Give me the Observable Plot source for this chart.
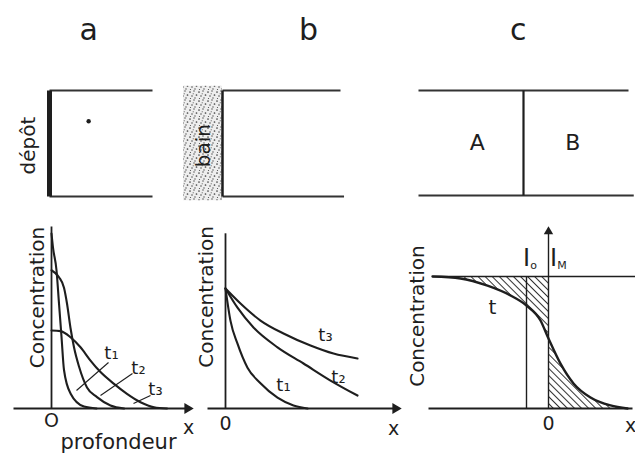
<!DOCTYPE html>
<html><head><meta charset="utf-8">
<script src="https://cdn.jsdelivr.net/npm/d3@7"></script>
<script src="https://cdn.jsdelivr.net/npm/@observablehq/plot@0.6"></script>
<style>
body{margin:0;background:#fff}
#fig{position:relative;width:635px;height:461px;overflow:hidden;background:#fff}
#fig svg{position:absolute;left:0;top:0}
</style></head><body><div id="fig"></div>
<script>
// ---------- DATA ----------
const panelTitles = ["a", "b", "c"];
// top row: sample geometry (sample length = 1, sample thickness = 1)
const sampleSpan = [0, 1];
const depositDot = [0.38, 0.71];
const bathSpan = [-0.33, 0];
const coupleSpan = [-1, 0, 1];
const coupleNames = ["A", "B"];

// panel a: thin deposit, gaussian profiles (depth, concentration)
const aX_t1 = [0, 0.03, 0.1, 0.15, 0.2, 0.25, 0.38, 0.65, 0.9];
const aC_t1 = [1.0, 0.92, 0.79, 0.6, 0.41, 0.22, 0.086, 0.011, 0];
const aX_t2 = [0, 0.15, 0.25, 0.31, 0.38, 0.45, 0.55, 0.71, 0.91, 1.18, 1.45];
const aC_t2 = [0.79, 0.75, 0.69, 0.60, 0.46, 0.35, 0.24, 0.12, 0.065, 0.017, 0];
const aX_t3 = [0, 0.18, 0.38, 0.58, 0.78, 0.98, 1.25, 1.51, 1.78, 2.05, 2.31];
const aC_t3 = [0.446, 0.442, 0.407, 0.35, 0.274, 0.208, 0.141, 0.084, 0.036, 0.007, 0];
const aLabels = ["t\u2081", "t\u2082", "t\u2083"];
const aLabelX = [1.2, 1.74, 2.08];
const aLabelC = [0.314, 0.229, 0.109];
const aLeaderFrom = [[1.14, 0.263], [1.62, 0.2], [1.98, 0.074]];
const aLeaderTo = [[0.5, 0.103], [0.98, 0.074], [1.64, 0.029]];

// panel b: constant surface concentration (erfc profiles)
const bX_t1 = [0, 0.1, 0.24, 0.44, 0.7, 1.04, 1.36, 1.64];
const bC_t1 = [1.0, 0.73, 0.54, 0.34, 0.21, 0.09, 0.025, 0];
const bX_t2 = [0, 0.24, 0.56, 1.04, 1.56, 2.1, 2.64];
const bC_t2 = [1.0, 0.84, 0.675, 0.51, 0.375, 0.233, 0.108];
const bX_t3 = [0, 0.3, 0.7, 1.16, 1.7, 2.16, 2.64];
const bC_t3 = [1.0, 0.875, 0.733, 0.625, 0.525, 0.458, 0.417];
const bLabels = ["t\u2083", "t\u2082", "t\u2081"];
const bLabelX = [2.0, 2.26, 1.16];
const bLabelC = [0.61, 0.26, 0.19];

// panel c: diffusion couple A/B
const cX = [-2.32, -1.76, -1.22, -0.76, -0.44, -0.16, 0, 0.24, 0.5, 0.84, 1.24, 1.58];
const cC = [1.0, 0.985, 0.93, 0.856, 0.78, 0.667, 0.53, 0.34, 0.19, 0.083, 0.023, 0];
const cInitialInterface = -0.44;   // I0
const cMatanoInterface = 0;        // IM

// ---------- HELPERS ----------
const W = 635, H = 461;
const INK = "#1e1e1e";
const FONT = "'DejaVu Sans', sans-serif";
const pts = (xs, ys) => xs.map((x, i) => ({x, y: ys[i]}));
const seg = (x1, y1, x2, y2) => ({x1, y1, x2, y2});
const links = (data, w, stroke = INK) => Plot.link(data, {x1: "x1", y1: "y1", x2: "x2", y2: "y2", stroke, strokeWidth: w, strokeLinecap: "butt"});
const txt = (data, o) => Plot.text(data, {x: "x", y: "y", text: "t", fill: INK, fontFamily: FONT, ...o});
const curve = (d, w = 2.1) => Plot.line(d, {x: "x", y: "y", stroke: INK, strokeWidth: w, curve: "monotone-x"});

function panel(ox, oy, sx, sy, marks, defs) {
  const svg = Plot.plot({
    width: W, height: H, margin: 0,
    x: {domain: [-ox / sx, (W - ox) / sx], range: [0, W], axis: null},
    y: {domain: [(oy - H) / sy, oy / sy], range: [H, 0], axis: null},
    style: {background: "transparent", fontFamily: FONT, color: INK, overflow: "visible"},
    marks
  });
  if (defs) {
    const d = document.createElementNS("http://www.w3.org/2000/svg", "defs");
    d.innerHTML = defs;
    svg.insertBefore(d, svg.firstChild);
  }
  document.getElementById("fig").appendChild(svg);
}

const EDGE = "#333";

// ---------- TOP ROW ----------
// a: deposit
panel(49, 196, 103, 106, [
  links([seg(0, 1, sampleSpan[1], 1), seg(0, 0, sampleSpan[1], 0)], 2.2, EDGE),
  links([seg(0, 0, 0, 1)], 5),
  Plot.dot([depositDot], {x: d => d[0], y: d => d[1], r: 2.2, fill: INK}),
  txt([{x: -0.2, y: 0.48, t: "dépôt"}], {fontSize: 20, rotate: -90}),
  txt([{x: 0.38, y: 1.566, t: panelTitles[0]}], {fontSize: 30})
]);

// b: bath
panel(222, 196, 118, 106, [
  Plot.rect([{x1: bathSpan[0], x2: bathSpan[1], y1: -0.04, y2: 1.04}], {x1: "x1", x2: "x2", y1: "y1", y2: "y2", fill: "url(#stip)"}),
  links([seg(0, 1, sampleSpan[1], 1), seg(0, 0, sampleSpan[1] + 0.03, 0)], 2.2, EDGE),
  links([seg(0, 0, 0, 1)], 2.5),
  txt([{x: -0.16, y: 0.48, t: "bain"}], {fontSize: 20, rotate: -90}),
  txt([{x: 0.73, y: 1.566, t: panelTitles[1]}], {fontSize: 30})
], `<pattern id="stip" width="9" height="9" patternUnits="userSpaceOnUse">
  <rect width="9" height="9" fill="#eeeeee"/>
  <g fill="#444"><circle cx="1" cy="2" r="0.85"/><circle cx="5" cy="1" r="0.7"/><circle cx="7.5" cy="5" r="0.85"/>
  <circle cx="3" cy="6" r="0.75"/><circle cx="6" cy="8" r="0.65"/><circle cx="1.5" cy="8.5" r="0.6"/><circle cx="4.2" cy="3.8" r="0.55"/></g></pattern>`);

// c: couple
panel(523, 195, 105, 105, [
  links([seg(coupleSpan[0], 1, coupleSpan[2], 1), seg(coupleSpan[0], 0, coupleSpan[2] + 0.05, 0)], 2.2, EDGE),
  links([seg(0, 0, 0, 1)], 2.2),
  txt([{x: -0.44, y: 0.5, t: coupleNames[0]}, {x: 0.47, y: 0.5, t: coupleNames[1]}], {fontSize: 22}),
  txt([{x: -0.05, y: 1.571, t: panelTitles[2]}], {fontSize: 30})
]);

// ---------- BOTTOM ROW ----------
// a
panel(51, 408, 50, 175, [
  links([seg(0, 0, 0, 1.04), seg(-0.76, 0, 2.7, 0)], 1.8),
  Plot.dot([[2.72, 0]], {x: d => d[0], y: d => d[1], symbol: "triangle", r: 4, fill: INK, rotate: 90}),
  curve(pts(aX_t1, aC_t1)),
  curve(pts(aX_t2, aC_t2)),
  curve(pts(aX_t3, aC_t3)),
  links(aLeaderFrom.map((f, i) => seg(f[0], f[1], aLeaderTo[i][0], aLeaderTo[i][1])), 1.1),
  txt(aLabels.map((t, i) => ({x: aLabelX[i], y: aLabelC[i], t})), {fontSize: 18}),
  txt([{x: -0.28, y: 0.634, t: "Concentration"}], {fontSize: 20, rotate: -90}),
  txt([{x: 0, y: -0.069, t: "O"}, {x: 2.74, y: -0.109, t: "x"}], {fontSize: 19}),
  txt([{x: 1.34, y: -0.194, t: "profondeur"}], {fontSize: 21})
]);

// b
panel(225, 408, 50, 120, [
  links([seg(0, 0, 0, 1.46), seg(-0.36, 0, 3.38, 0)], 1.8),
  Plot.dot([[3.4, 0]], {x: d => d[0], y: d => d[1], symbol: "triangle", r: 4, fill: INK, rotate: 90}),
  curve(pts(bX_t1, bC_t1)),
  curve(pts(bX_t2, bC_t2)),
  curve(pts(bX_t3, bC_t3)),
  txt(bLabels.map((t, i) => ({x: bLabelX[i], y: bLabelC[i], t})), {fontSize: 18}),
  txt([{x: -0.38, y: 0.93, t: "Concentration"}], {fontSize: 20, rotate: -90}),
  txt([{x: 0, y: -0.125, t: "0"}, {x: 3.36, y: -0.167, t: "x"}], {fontSize: 19})
]);

// c
const cData = pts(cX, cC);
panel(548, 408, 50, 132, [
  Plot.areaY(cData.filter(d => d.x >= -1.76 && d.x <= cMatanoInterface), {x: "x", y1: () => 1, y2: "y", fill: "url(#hatch)", curve: "monotone-x"}),
  Plot.areaY(cData.filter(d => d.x >= cMatanoInterface), {x: "x", y1: () => 0, y2: "y", fill: "url(#hatch)", curve: "monotone-x"}),
  links([seg(-2.32, 1, 1.74, 1)], 1.3),
  links([seg(-2.4, 0, 1.68, 0)], 1.8),
  links([seg(cMatanoInterface, 0, cMatanoInterface, 1.33), seg(cInitialInterface, 0, cInitialInterface, 1)], 1.4),
  Plot.dot([[cMatanoInterface, 1.34]], {x: d => d[0], y: d => d[1], symbol: "triangle", r: 3.5, fill: INK}),
  curve(cData, 2.4),
  txt([{x: -1.12, y: 0.765, t: "t"}], {fontSize: 20}),
  txt([{x: -0.44, y: 1.14, t: "I"}, {x: 0.1, y: 1.14, t: "I"}], {fontSize: 24}),
  txt([{x: -0.3, y: 1.08, t: "o"}, {x: 0.27, y: 1.08, t: "M"}], {fontSize: 11}),
  txt([{x: -2.62, y: 0.70, t: "Concentration"}], {fontSize: 20, rotate: -90}),
  txt([{x: 0, y: -0.114, t: "0"}, {x: 1.64, y: -0.13, t: "x"}], {fontSize: 19})
], `<pattern id="hatch" width="5" height="5" patternUnits="userSpaceOnUse" patternTransform="rotate(-45)">
  <line x1="2.5" y1="0" x2="2.5" y2="5" stroke="#333" stroke-width="1"/></pattern>`);
</script></body></html>
